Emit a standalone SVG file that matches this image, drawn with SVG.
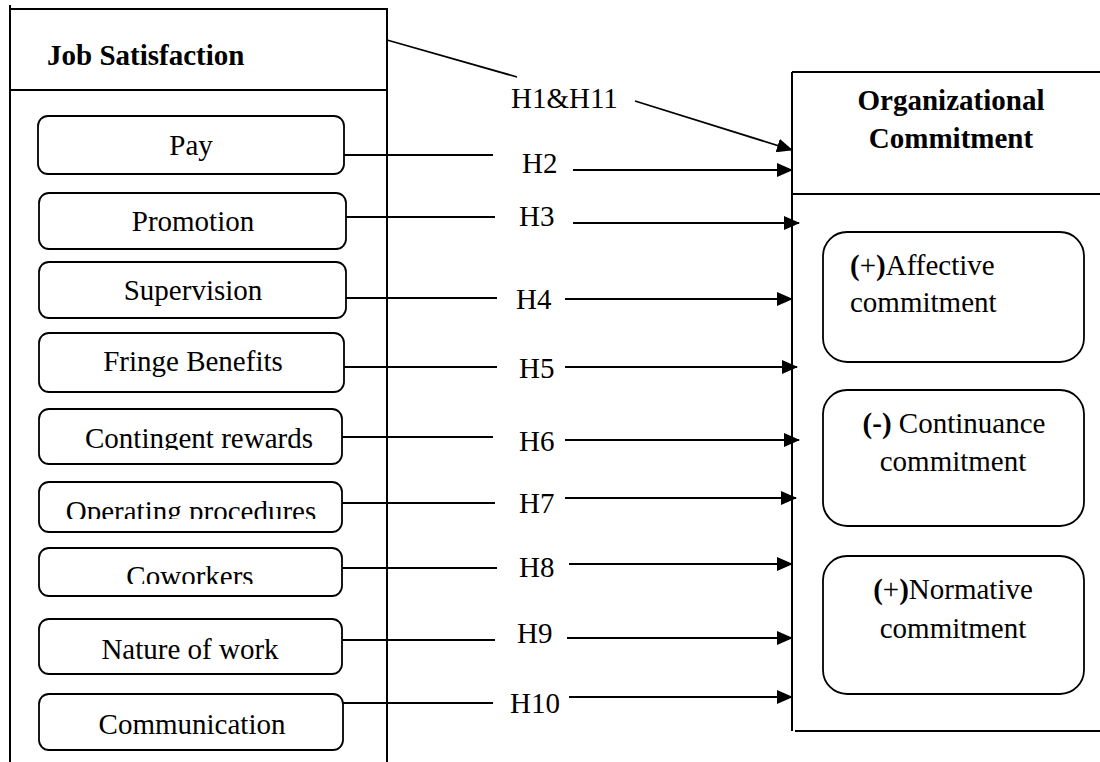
<svg xmlns="http://www.w3.org/2000/svg" width="1100" height="762" viewBox="0 0 1100 762">
<style>
.box{fill:none;stroke:#000;stroke-width:2}
.rbox{fill:#fff;stroke:#000;stroke-width:1.8}
.ln{fill:none;stroke:#000;stroke-width:1.8}
.t{font-family:"Liberation Serif","Times New Roman",serif;font-size:29px;fill:#000}
.b{font-weight:bold}
.m{text-anchor:middle}
</style>
<defs>
<marker id="ah" markerUnits="userSpaceOnUse" markerWidth="16" markerHeight="14" refX="15" refY="7" orient="auto">
<path d="M0,0 L16,7 L0,14 z" fill="#000"/>
</marker>
<clipPath id="c1"><rect x="40" y="400" width="300" height="50"/></clipPath>
<clipPath id="c2"><rect x="40" y="480" width="300" height="39"/></clipPath>
<clipPath id="c3"><rect x="40" y="550" width="300" height="34"/></clipPath>
</defs>
<rect width="1100" height="762" fill="#fff"/>

<g id="job-satisfaction">
<path class="box" d="M10,5 V762 M10,9 H387 V762 M10,90 H387"/>
<text class="t b" x="47" y="65">Job Satisfaction</text>
</g>

<g id="pay"><rect class="rbox" x="38" y="116" width="306" height="58" rx="10"/><text class="t m" x="191" y="155">Pay</text></g>
<g id="promotion"><rect class="rbox" x="39" y="193" width="307" height="56" rx="10"/><text class="t m" x="193" y="231">Promotion</text></g>
<g id="supervision"><rect class="rbox" x="39" y="262" width="307" height="56" rx="10"/><text class="t m" x="193" y="300">Supervision</text></g>
<g id="fringe"><rect class="rbox" x="39" y="333" width="305" height="59" rx="10"/><text class="t m" x="193" y="371">Fringe Benefits</text></g>
<g id="contingent"><rect class="rbox" x="39" y="409" width="303" height="55" rx="10"/><text class="t m" x="199" y="448" clip-path="url(#c1)">Contingent rewards</text></g>
<g id="operating"><rect class="rbox" x="39" y="482" width="303" height="50" rx="10"/><text class="t m" x="191" y="521" clip-path="url(#c2)">Operating procedures</text></g>
<g id="coworkers"><rect class="rbox" x="39" y="548" width="303" height="48" rx="10"/><text class="t m" x="190" y="586" clip-path="url(#c3)">Coworkers</text></g>
<g id="nature"><rect class="rbox" x="39" y="619" width="303" height="55" rx="10"/><text class="t m" x="190" y="659">Nature of work</text></g>
<g id="communication"><rect class="rbox" x="39" y="694" width="304" height="56" rx="10"/><text class="t m" x="192" y="734">Communication</text></g>

<g id="organizational-commitment">
<path class="box" d="M792,72 V731 M792,72 H1100 M792,194 H1100 M795,731 H1100"/>
<text class="t b m" x="951" y="110">Organizational</text>
<text class="t b m" x="951" y="148">Commitment</text>
</g>
<g id="affective"><rect class="rbox" x="823" y="232" width="261" height="130" rx="24"/>
<text class="t" x="850" y="275"><tspan class="b">(</tspan>+<tspan class="b">)</tspan>Affective</text>
<text class="t" x="850" y="312">commitment</text></g>
<g id="continuance"><rect class="rbox" x="823" y="390" width="261" height="136" rx="24"/>
<text class="t m" x="954" y="433"><tspan class="b">(-)</tspan> Continuance</text>
<text class="t m" x="953" y="471">commitment</text></g>
<g id="normative"><rect class="rbox" x="823" y="556" width="261" height="138" rx="24"/>
<text class="t m" x="953" y="599"><tspan class="b">(</tspan>+<tspan class="b">)</tspan>Normative</text>
<text class="t m" x="953" y="638">commitment</text></g>

<g id="connectors">
<path class="ln" d="M387,40 L517,77"/>
<path class="ln" d="M635,101 L792,150" marker-end="url(#ah)"/>
<path class="ln" d="M344,155 H493"/>
<path class="ln" d="M573,170 H792" marker-end="url(#ah)"/>
<path class="ln" d="M346,217 H495"/>
<path class="ln" d="M573,223 H799" marker-end="url(#ah)"/>
<path class="ln" d="M346,298 H497"/>
<path class="ln" d="M565,299 H792" marker-end="url(#ah)"/>
<path class="ln" d="M344,367 H497"/>
<path class="ln" d="M565,367 H797" marker-end="url(#ah)"/>
<path class="ln" d="M342,437 H493"/>
<path class="ln" d="M565,440 H799" marker-end="url(#ah)"/>
<path class="ln" d="M342,503 H495"/>
<path class="ln" d="M565,498 H796" marker-end="url(#ah)"/>
<path class="ln" d="M342,568 H497"/>
<path class="ln" d="M569,564 H792" marker-end="url(#ah)"/>
<path class="ln" d="M342,640 H495"/>
<path class="ln" d="M567,638 H792" marker-end="url(#ah)"/>
<path class="ln" d="M343,703 H493"/>
<path class="ln" d="M569,697 H792" marker-end="url(#ah)"/>
</g>
<g id="labels">
<text class="t" x="511" y="108">H1&amp;H11</text>
<text class="t" x="522" y="173">H2</text>
<text class="t" x="519" y="226">H3</text>
<text class="t" x="516" y="309">H4</text>
<text class="t" x="519" y="378">H5</text>
<text class="t" x="519" y="451">H6</text>
<text class="t" x="519" y="513">H7</text>
<text class="t" x="519" y="577">H8</text>
<text class="t" x="517" y="643">H9</text>
<text class="t" x="510" y="713">H10</text>
</g>
</svg>
